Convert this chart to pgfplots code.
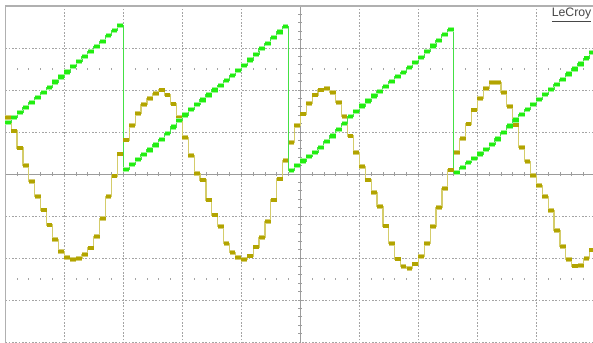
\documentclass[border=0pt]{standalone}
\usepackage{pgfplots}
\pgfplotsset{compat=1.18}
\usepackage{pgfplotstable}
\usepackage{fontspec}
\setmainfont{Liberation Sans}
\definecolor{yel}{HTML}{B2A400}
\definecolor{yelc}{HTML}{D4CC6A}
\definecolor{grn}{HTML}{22EE11}
\definecolor{grnc}{HTML}{44E044}
\definecolor{gridc}{HTML}{A4A4A4}
\definecolor{axc}{HTML}{9C9C9C}
\tikzset{gridl/.style={gridc, line width=0.6pt, dash pattern=on 1.2pt off 1.3pt}}
\pgfplotstableread{
x ch1 ch2
-5.0 1.350 1.221
-4.9 1.024 1.340
-4.8 0.619 1.460
-4.7 0.198 1.579
-4.6 -0.183 1.698
-4.5 -0.531 1.826
-4.4 -0.857 1.945
-4.3 -1.214 2.064
-4.2 -1.555 2.190
-4.1 -1.840 2.310
-4.0 -1.993 2.429
-3.9 -2.031 2.555
-3.8 -2.007 2.674
-3.7 -1.912 2.793
-3.6 -1.762 2.912
-3.5 -1.493 3.031
-3.4 -1.055 3.150
-3.3 -0.540 3.293
-3.2 -0.048 3.421
-3.1 0.476 3.540
-3.0 0.810 0.112
-2.9 1.150 0.231
-2.8 1.436 0.350
-2.7 1.660 0.469
-2.6 1.802 0.571
-2.5 1.912 0.690
-2.4 2.000 0.826
-2.3 1.881 0.969
-2.2 1.667 1.119
-2.1 1.340 1.269
-2.0 0.874 1.405
-1.9 0.436 1.540
-1.8 0.017 1.660
-1.7 -0.143 1.762
-1.6 -0.619 1.881
-1.5 -0.976 2.000
-1.4 -1.255 2.112
-1.3 -1.650 2.231
-1.2 -1.864 2.350
-1.1 -1.983 2.469
-1.0 -2.031 2.588
-0.9 -1.952 2.714
-0.8 -1.738 2.850
-0.7 -1.507 2.983
-0.6 -1.136 3.112
-0.5 -0.619 3.255
-0.4 -0.119 3.381
-0.3 0.317 3.507
-0.2 0.755 0.079
-0.1 1.150 0.198
0.0 1.429 0.310
0.1 1.683 0.412
0.2 1.881 0.517
0.3 2.000 0.626
0.4 2.040 0.769
0.5 1.945 0.905
0.6 1.698 1.064
0.7 1.364 1.207
0.8 0.905 1.364
0.9 0.517 1.483
1.0 0.174 1.619
1.1 -0.143 1.738
1.2 -0.436 1.857
1.3 -0.779 1.960
1.4 -1.238 2.079
1.5 -1.650 2.198
1.6 -2.024 2.317
1.7 -2.207 2.412
1.8 -2.245 2.531
1.9 -2.143 2.650
2.0 -1.969 2.779
2.1 -1.650 2.912
2.2 -1.255 3.048
2.3 -0.802 3.183
2.4 -0.340 3.326
2.5 0.095 3.445
2.6 0.517 0.031
2.7 0.850 0.150
2.8 1.190 0.269
2.9 1.524 0.374
3.0 1.802 0.476
3.1 2.040 0.588
3.2 2.174 0.707
3.3 2.174 0.833
3.4 1.945 0.983
3.5 1.602 1.143
3.6 1.167 1.286
3.7 0.636 1.421
3.8 0.293 1.540
3.9 -0.040 1.660
4.0 -0.279 1.779
4.1 -0.540 1.898
4.2 -0.874 2.017
4.3 -1.350 2.136
4.4 -1.731 2.255
4.5 -2.031 2.381
4.6 -2.190 2.500
4.7 -2.183 2.619
4.8 -2.007 2.757
4.9 -1.810 2.888
5.0 -1.810 2.888
}\wavedata
\begin{document}
\begin{tikzpicture}
\begin{axis}[
  x=44.25pt, y=31.5pt,
  xmin=-5.0898, xmax=4.961, ymin=-4, ymax=4.1429,
  axis line style={draw=none}, ticks=none, clip=true,
]
% grid
\pgfplotsinvokeforeach{-4,-3,-2,-1,1,2,3,4}{
  \draw[gridl] (axis cs:#1,-4.2) -- (axis cs:#1,4);
  \draw[gridl] (axis cs:-5,#1) -- (axis cs:5.2,#1);
}
\pgfplotsinvokeforeach{-24,...,24}{
  \draw[axc, line width=0.6pt] (axis cs:{#1*0.2},-0.05) -- (axis cs:{#1*0.2},0.05);
  \draw[gridc, line width=0.6pt] (axis cs:{#1*0.2},2.48) -- (axis cs:{#1*0.2},2.52);
  \draw[gridc, line width=0.6pt] (axis cs:{#1*0.2},-2.52) -- (axis cs:{#1*0.2},-2.48);
}
\pgfplotsinvokeforeach{-19,...,19}{
  \draw[axc, line width=0.6pt] (axis cs:-0.035,{#1*0.2}) -- (axis cs:0.035,{#1*0.2});
}
\draw[axc, line width=0.75pt] (axis cs:-5,0) -- (axis cs:5.2,0);
\draw[axc, line width=0.75pt] (axis cs:0,-4.2) -- (axis cs:0,4);
\draw[axc!80, line width=1.1pt] (axis cs:-5,-4.2) -- (axis cs:-5,4) -- (axis cs:5.2,4);
% channel 1 (yellow)
\addplot[const plot mark left, yelc, line width=0.9pt, mark=none] table[x=x,y=ch1]{\wavedata};
\addplot[only marks, mark=-, mark size=2.21pt,
  mark options={xshift=2.21pt, line width=3.4pt, draw=yel!55}] table[x=x,y=ch1]{\wavedata};
\addplot[only marks, mark=-, mark size=2.21pt,
  mark options={xshift=2.21pt, line width=2.4pt, draw=yel}] table[x=x,y=ch1]{\wavedata};
% channel 2 (green)
\addplot[const plot mark left, grnc, line width=0.8pt, mark=none] table[x=x,y=ch2]{\wavedata};
\addplot[only marks, mark=-, mark size=2.21pt,
  mark options={xshift=2.21pt, line width=3.8pt, draw=grn!45}] table[x=x,y=ch2]{\wavedata};
\addplot[only marks, mark=-, mark size=2.21pt,
  mark options={xshift=2.21pt, line width=2.6pt, draw=grn}] table[x=x,y=ch2]{\wavedata};
\node[anchor=north east, inner sep=0.8pt, fill=white, text=black!72]
  at (axis cs:4.955,3.98) {\fontsize{9.2}{10}\selectfont\underline{LeCroy}};
\end{axis}
\pgfresetboundingbox
\useasboundingbox (current axis.south west) rectangle (current axis.north east);
\end{tikzpicture}
\end{document}
